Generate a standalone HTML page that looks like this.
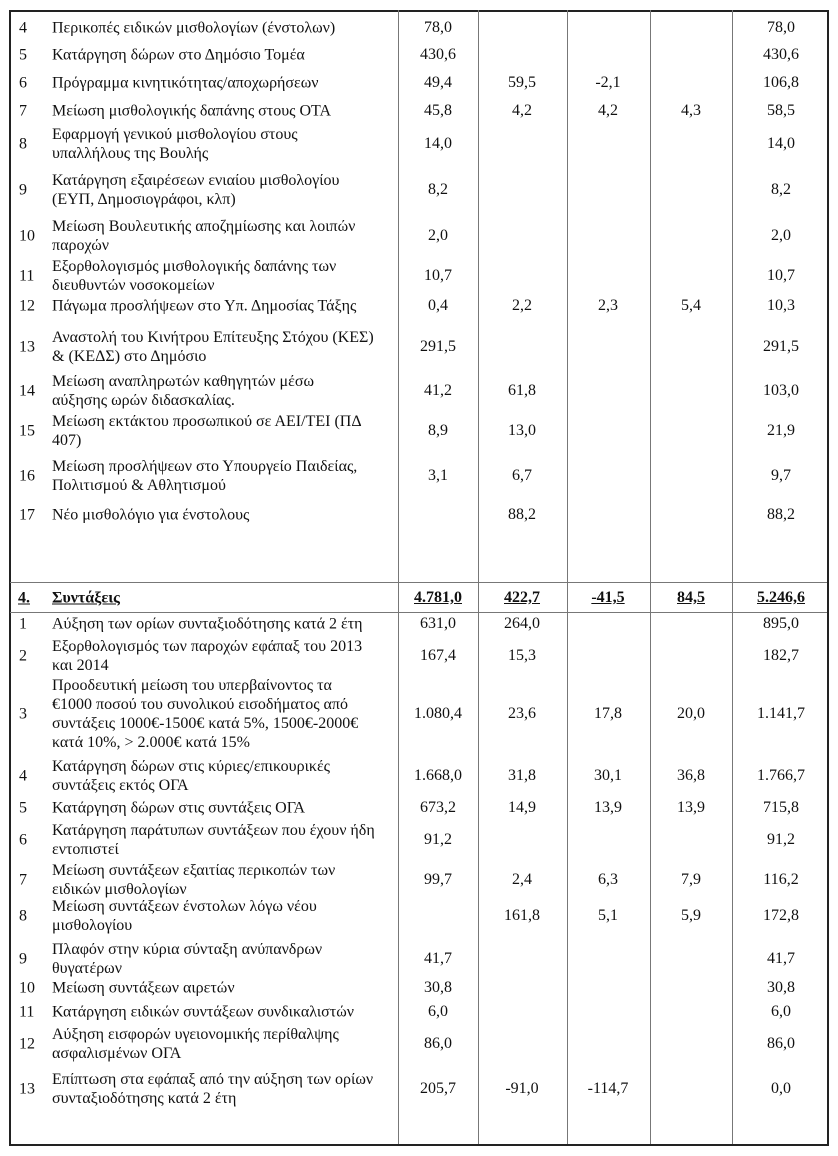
<!DOCTYPE html>
<html><head><meta charset="utf-8"><style>
body{margin:0;background:#fff;}
#p{position:relative;width:838px;height:1156px;background:#fff;font-family:"Liberation Serif",serif;font-size:16px;color:#111;overflow:hidden}
.t{position:absolute;transform:translateY(-50%);line-height:19px;white-space:nowrap}
.n{position:absolute;transform:translate(-50%,-50%);white-space:nowrap}
.v{position:absolute;top:10px;height:1134px;width:1px;background:#777}
.h{position:absolute;left:10px;width:817px;height:1px;background:#777}
u{text-decoration:underline}
</style></head><body><div id="p">
<div style="position:absolute;left:9px;top:10px;width:816px;height:1132px;border:2px solid #222"></div>
<div class="v" style="left:398px"></div><div class="v" style="left:478px"></div><div class="v" style="left:567px"></div><div class="v" style="left:650px"></div><div class="v" style="left:732px"></div>
<div class="h" style="top:582px"></div><div class="h" style="top:612px"></div>
<div id="rows"></div>
</div>
<script>
var R=[
[28,"4",["Περικοπές ειδικών μισθολογίων (ένστολων)"],["78,0","","","","78,0"]],
[55,"5",["Κατάργηση δώρων στο Δημόσιο Τομέα"],["430,6","","","","430,6"]],
[83,"6",["Πρόγραμμα κινητικότητας/αποχωρήσεων"],["49,4","59,5","-2,1","","106,8"]],
[111,"7",["Μείωση μισθολογικής δαπάνης στους ΟΤΑ"],["45,8","4,2","4,2","4,3","58,5"]],
[144,"8",["Εφαρμογή γενικού μισθολογίου στους","υπαλλήλους της Βουλής"],["14,0","","","","14,0"]],
[190,"9",["Κατάργηση εξαιρέσεων ενιαίου μισθολογίου","(ΕΥΠ, Δημοσιογράφοι, κλπ)"],["8,2","","","","8,2"]],
[236,"10",["Μείωση Βουλευτικής αποζημίωσης και λοιπών","παροχών"],["2,0","","","","2,0"]],
[276,"11",["Εξορθολογισμός μισθολογικής δαπάνης των","διευθυντών νοσοκομείων"],["10,7","","","","10,7"]],
[306,"12",["Πάγωμα προσλήψεων στο Υπ. Δημοσίας Τάξης"],["0,4","2,2","2,3","5,4","10,3"]],
[347,"13",["Αναστολή του Κινήτρου Επίτευξης Στόχου (ΚΕΣ)","& (ΚΕΔΣ) στο Δημόσιο"],["291,5","","","","291,5"]],
[391,"14",["Μείωση  αναπληρωτών καθηγητών μέσω","αύξησης ωρών διδασκαλίας."],["41,2","61,8","","","103,0"]],
[431,"15",["Μείωση εκτάκτου προσωπικού σε ΑΕΙ/ΤΕΙ (ΠΔ","407)"],["8,9","13,0","","","21,9"]],
[476,"16",["Μείωση προσλήψεων στο Υπουργείο Παιδείας,","Πολιτισμού & Αθλητισμού"],["3,1","6,7","","","9,7"]],
[515,"17",["Νέο μισθολόγιο για ένστολους"],["","88,2","","","88,2"]],
[624,"1",["Αύξηση των ορίων συνταξιοδότησης κατά 2 έτη"],["631,0","264,0","","","895,0"]],
[656,"2",["Εξορθολογισμός των παροχών εφάπαξ του 2013","και 2014"],["167,4","15,3","","","182,7"]],
[714,"3",["Προοδευτική μείωση του υπερβαίνοντος τα","€1000 ποσού του συνολικού εισοδήματος από","συντάξεις 1000€-1500€ κατά 5%, 1500€-2000€","κατά 10%,  > 2.000€  κατά 15%"],["1.080,4","23,6","17,8","20,0","1.141,7"]],
[776,"4",["Κατάργηση δώρων στις κύριες/επικουρικές","συντάξεις εκτός ΟΓΑ"],["1.668,0","31,8","30,1","36,8","1.766,7"]],
[808,"5",["Κατάργηση δώρων στις συντάξεις ΟΓΑ"],["673,2","14,9","13,9","13,9","715,8"]],
[840,"6",["Κατάργηση παράτυπων συντάξεων που έχουν ήδη","εντοπιστεί"],["91,2","","","","91,2"]],
[880,"7",["Μείωση συντάξεων εξαιτίας περικοπών των","ειδικών μισθολογίων"],["99,7","2,4","6,3","7,9","116,2"]],
[916,"8",["Μείωση συντάξεων ένστολων λόγω νέου","μισθολογίου"],["","161,8","5,1","5,9","172,8"]],
[959,"9",["Πλαφόν στην κύρια σύνταξη ανύπανδρων","θυγατέρων"],["41,7","","","","41,7"]],
[988,"10",["Μείωση συντάξεων αιρετών"],["30,8","","","","30,8"]],
[1012,"11",["Κατάργηση ειδικών συντάξεων συνδικαλιστών"],["6,0","","","","6,0"]],
[1044,"12",["Αύξηση εισφορών υγειονομικής περίθαλψης","ασφαλισμένων ΟΓΑ"],["86,0","","","","86,0"]],
[1089,"13",["Επίπτωση στα εφάπαξ από την αύξηση των ορίων","συνταξιοδότησης κατά 2 έτη"],["205,7","-91,0","-114,7","","0,0"]]
];
var C=[438,522,608,691,781],h="";
R.forEach(function(r){
h+='<div class="t" style="left:19px;top:'+r[0]+'px">'+r[1]+'</div>';
h+='<div class="t" style="left:52px;top:'+r[0]+'px">'+r[2].join("<br>")+'</div>';
r[3].forEach(function(v,i){if(v)h+='<div class="n" style="left:'+C[i]+'px;top:'+r[0]+'px">'+v+'</div>';});
});
h+='<div class="t" style="left:18px;top:598px;font-weight:bold"><u>4.</u></div>';
h+='<div class="t" style="left:52px;top:598px;font-weight:bold"><u>Συντάξεις</u></div>';
["4.781,0","422,7","-41,5","84,5","5.246,6"].forEach(function(v,i){h+='<div class="n" style="left:'+C[i]+'px;top:598px;font-weight:bold"><u>'+v+'</u></div>';});
document.getElementById("rows").innerHTML=h;
</script>
</body></html>
